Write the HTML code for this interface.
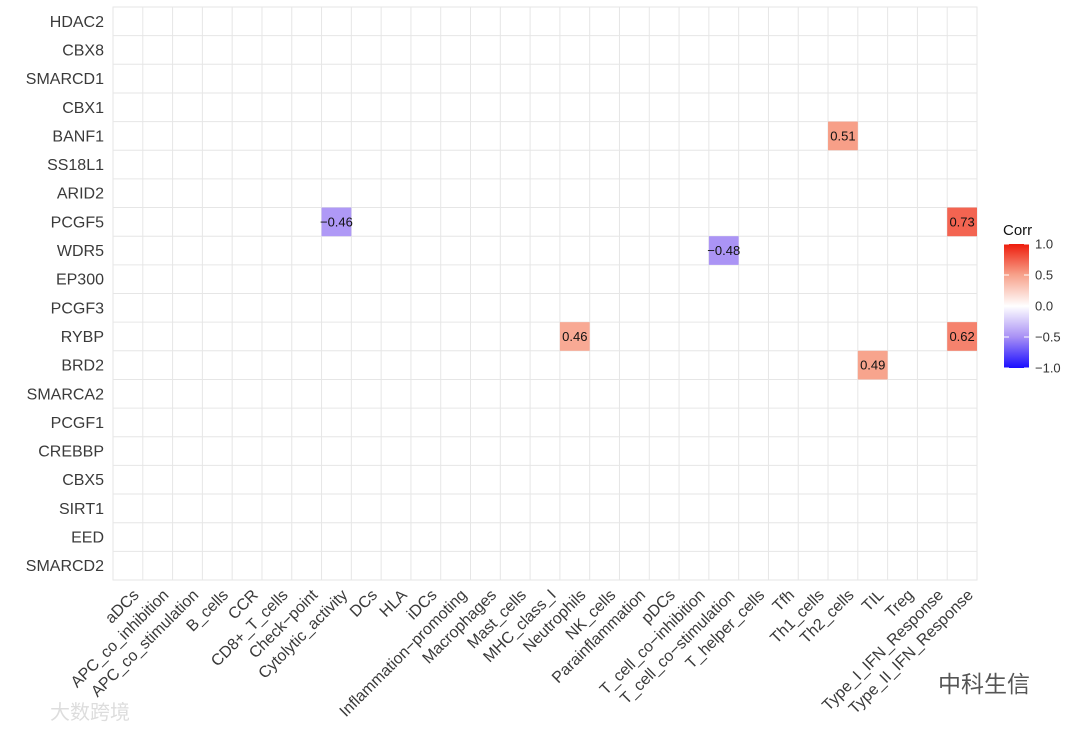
<!DOCTYPE html>
<html><head><meta charset="utf-8"><style>
body{margin:0;background:#fff;}
svg{display:block;font-family:"Liberation Sans","Noto Sans CJK SC",sans-serif;}
</style></head><body>
<svg id="chart" width="1080" height="731" viewBox="0 0 1080 731" xmlns="http://www.w3.org/2000/svg">
<defs><linearGradient id="cg" x1="0" y1="1" x2="0" y2="0">
<stop offset="0" stop-color="#1a0dff"/><stop offset="0.25" stop-color="#a890f5"/><stop offset="0.5" stop-color="#ffffff"/><stop offset="0.75" stop-color="#f7a28b"/><stop offset="1" stop-color="#ee1c0c"/></linearGradient></defs>
<g id="grid"></g><g id="cells"></g><g id="yax"></g><g id="xax"></g>
<g>
<text x="1003" y="235" font-size="15" fill="#111">Corr</text>
<rect x="1004" y="244" width="25" height="124" fill="url(#cg)"/>
<g id="legticks" font-size="13" fill="#333"></g>
</g>
<text x="938" y="692" font-size="23" fill="#555">中科生信</text>
<text x="50" y="719" font-size="20" fill="#ddd">大数跨境</text>
</svg>
<script>
const rows=["HDAC2","CBX8","SMARCD1","CBX1","BANF1","SS18L1","ARID2","PCGF5","WDR5","EP300","PCGF3","RYBP","BRD2","SMARCA2","PCGF1","CREBBP","CBX5","SIRT1","EED","SMARCD2"];
const cols=["aDCs","APC_co_inhibition","APC_co_stimulation","B_cells","CCR","CD8+_T_cells","Check\u2212point","Cytolytic_activity","DCs","HLA","iDCs","Inflammation\u2212promoting","Macrophages","Mast_cells","MHC_class_I","Neutrophils","NK_cells","Parainflammation","pDCs","T_cell_co\u2212inhibition","T_cell_co\u2212stimulation","T_helper_cells","Tfh","Th1_cells","Th2_cells","TIL","Treg","Type_I_IFN_Response","Type_II_IFN_Response"];
const cellRows=["BANF1","PCGF5","PCGF5","WDR5","RYBP","RYBP","BRD2"];
const cellCols=["Th2_cells","Cytolytic_activity","Type_II_IFN_Response","T_cell_co\u2212stimulation","Neutrophils","Type_II_IFN_Response","TIL"];
const cellVals=[0.51,-0.46,0.73,-0.48,0.46,0.62,0.49];
const legVals=[1.0,0.5,0.0,-0.5,-1.0];
const NS="http://www.w3.org/2000/svg";
const L=113,R=977,T=7,B=580;
const cw=(R-L)/cols.length, rh=(B-T)/rows.length;
const xc=c=>L+cw*(cols.indexOf(c)+0.5);
const yc=r=>T+rh*(rows.indexOf(r)+0.5);
function mk(t,a,p){const e=document.createElementNS(NS,t);for(const k in a)e.setAttribute(k,a[k]);p.appendChild(e);return e;}
function lerp(a,b,t){return a.map((v,i)=>Math.round(v+(b[i]-v)*t));}
function color(v){const w=[255,255,255],p=[247,162,139],r=[238,28,12],q=[168,144,245],b=[26,13,255];let c;
 const a=Math.abs(v); if(v>=0)c=a<0.5?lerp(w,p,a/0.5):lerp(p,r,(a-0.5)/0.5); else c=a<0.5?lerp(w,q,a/0.5):lerp(q,b,(a-0.5)/0.5);
 return `rgb(${c})`;}
const g=document.getElementById('grid');
mk('rect',{x:L,y:T,width:R-L,height:B-T,fill:'#fff',stroke:'#e6e6e6'},g);
cols.forEach((c,i)=>{const x=L+cw*i;mk('line',{x1:x,x2:x,y1:T,y2:B,stroke:'#e6e6e6'},g);});
rows.forEach((r,i)=>{const y=T+rh*i;mk('line',{x1:L,x2:R,y1:y,y2:y,stroke:'#e6e6e6'},g);});
const cg=document.getElementById('cells');
cellVals.forEach((v,i)=>{
 const x=xc(cellCols[i]),y=yc(cellRows[i]);
 const rc=mk('rect',{x:x-cw/2,y:y-rh/2,width:cw,height:rh,fill:color(v)},cg);
 
 
 const t=mk('text',{x:x,y:y+4.5,'text-anchor':'middle','font-size':13,fill:'#111'},cg);
 
 
 t.textContent=(v<0?'\u2212':'')+Math.abs(v).toFixed(2);
});
const ya=document.getElementById('yax');
rows.forEach(r=>{const t=mk('text',{x:104,y:yc(r)+5.5,'text-anchor':'end','font-size':16,fill:'#3a3a3a'},ya);
 
 
 t.textContent=r;});
const xa=document.getElementById('xax');
cols.forEach(c=>{const x=xc(c)+4,y=588;const t=mk('text',{x:x,y:y,'text-anchor':'end','font-size':16,fill:'#3a3a3a',transform:`rotate(-45 ${x} ${y})`,dy:'0.7em'},xa);
 
 
 t.textContent=c;});
const lt=document.getElementById('legticks');
legVals.forEach(v=>{const y=244+(1-v)/2*124;
 mk('line',{x1:1004,x2:1009,y1:y,y2:y,stroke:'#fff'},lt);mk('line',{x1:1024,x2:1029,y1:y,y2:y,stroke:'#fff'},lt);
 const t=mk('text',{x:1035,y:y+4.5},lt);
 
 
 t.textContent=(v<0?'\u2212':'')+Math.abs(v).toFixed(1);});
</script>
</body></html>
